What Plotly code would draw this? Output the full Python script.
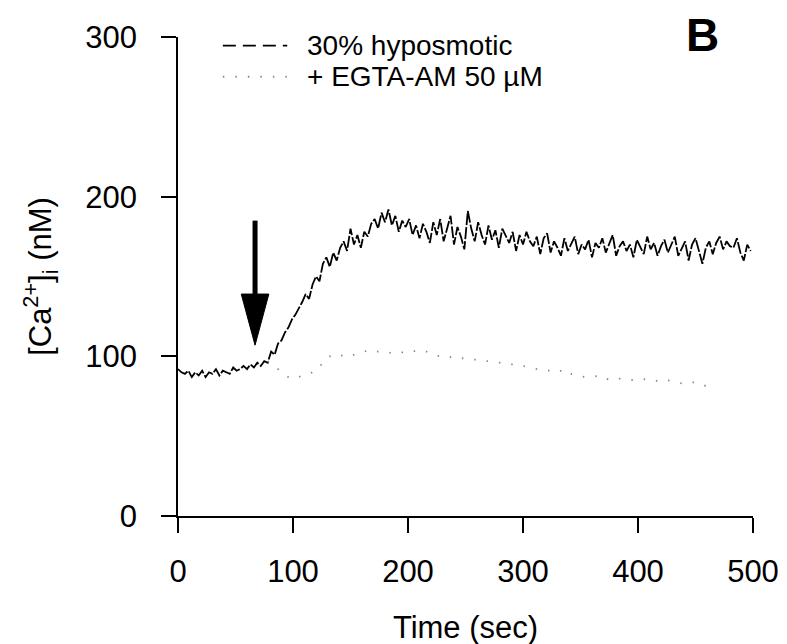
import plotly.graph_objects as go

# ---------------- data ----------------
hypo_time = list(range(0, 499, 3))
hypo_ca = [
    92, 90, 89, 91, 87, 90, 88, 91, 87, 90, 89, 92, 88, 91, 90, 89, 93, 91, 92, 94,
    92, 95, 93, 96, 94, 97,
    96, 103, 101, 108, 110, 115, 118, 123, 126, 130, 134, 139, 136, 145, 150, 147,
    158, 162, 156, 165, 160, 168, 172, 166, 180, 170, 176, 168, 178, 175, 183, 186,
    180, 190, 184, 192, 182, 188, 178, 185, 181, 186, 176, 182, 174, 183, 178, 171,
    184, 176, 186, 172, 180, 188, 170, 181, 175, 167, 191, 180, 172, 184, 176, 170,
    182, 173, 179, 168, 180, 175, 171, 178, 166, 176, 170, 178, 172, 169, 175, 164,
    174, 177, 165, 172, 168, 163, 174, 166, 171, 175, 164, 170, 167, 173, 162, 171,
    168, 174, 165, 170, 176, 163, 169, 172, 166, 170, 162, 173, 168, 164, 175, 167,
    171, 163, 169, 173, 165, 170, 175, 163, 168, 172, 160, 170, 174, 166, 158, 168,
    172, 164, 171, 175, 167, 172, 169, 168, 174, 165, 160, 170, 166,
]
hypo_time = hypo_time[:len(hypo_ca)]

egta_time = list(range(78, 463, 6))
egta_ca = [
    97, 94, 90, 87, 86, 88, 89, 91, 96, 100, 99, 101, 100, 102, 103, 104, 103, 103,
    102, 103, 102, 103, 104, 103, 101, 100, 99, 100, 99, 98, 98, 97, 97, 96, 96, 95,
    95, 94, 93, 92, 91, 91, 90, 92, 89, 88, 87, 87, 88, 86, 85, 86, 86, 85, 85, 86,
    85, 84, 85, 84, 83, 83, 84, 82, 81,
]
egta_time = egta_time[:len(egta_ca)]

x_ticks = [0, 100, 200, 300, 400, 500]
y_ticks = [0, 100, 200, 300]

series_names = ["30% hyposmotic", "+ EGTA-AM 50 \u00b5M"]
series_colors = ["black", "#8a8a8a"]
series_dash = ["12px,2px", "1.5px,11px"]
legend_dash = ["13px,7px", "1.5px,11px"]

# stimulus arrow (time in s, tip / tail in nM)
arrow_t = 67
arrow_tip = 107
arrow_tail = 185

FONT = "Liberation Sans, Arial, sans-serif"

fig = go.Figure()
fig.add_trace(go.Scatter(
    x=hypo_time, y=hypo_ca, mode="lines", name=series_names[0], showlegend=False,
    line=dict(color=series_colors[0], width=1.8, dash=series_dash[0]),
))
fig.add_trace(go.Scatter(
    x=egta_time, y=egta_ca, mode="lines", name=series_names[1], showlegend=False,
    line=dict(color=series_colors[1], width=1.8, dash=series_dash[1]),
))

# arrow: shaft + filled head built from arrow constants
head_len = 32   # nM
head_half = 12  # s
fig.add_shape(type="line", x0=arrow_t, x1=arrow_t, y0=arrow_tail, y1=arrow_tip + head_len - 2,
              line=dict(color="black", width=5), layer="above")
fig.add_shape(type="path",
              path=f"M {arrow_t - head_half} {arrow_tip + head_len} L {arrow_t + head_half} {arrow_tip + head_len} L {arrow_t} {arrow_tip} Z",
              fillcolor="black", line=dict(color="black", width=1), layer="above")

# legend (drawn as keyed lines + texts)
legend_x0, legend_x1, legend_tx = 0.078, 0.19, 0.221
legend_y = [0.982, 0.917]
for i in range(2):
    fig.add_shape(type="line", xref="paper", yref="paper",
                  x0=legend_x0, x1=legend_x1, y0=legend_y[i], y1=legend_y[i],
                  line=dict(color=series_colors[i], width=1.8, dash=legend_dash[i]))
    fig.add_annotation(text=series_names[i], x=legend_tx, y=legend_y[i], xref="paper", yref="paper",
                       xanchor="left", yanchor="middle", showarrow=False,
                       font=dict(family=FONT, size=28, color="black"))

fig.add_annotation(text="<b>B</b>", x=0.913, y=1.005, xref="paper", yref="paper",
                   xanchor="center", yanchor="middle",
                   showarrow=False, font=dict(family=FONT, size=46, color="black"))

axis_common = dict(
    showline=True, linecolor="black", linewidth=1.5,
    ticks="outside", ticklen=15, tickwidth=1.5, tickcolor="black",
    showgrid=False, zeroline=False,
    tickfont=dict(family=FONT, size=31, color="black"),
)
fig.update_xaxes(range=[0, 500], tickvals=x_ticks, ticklabelstandoff=12, **axis_common,
                 title=dict(text="Time (sec)", font=dict(family=FONT, size=31, color="black"), standoff=28))
fig.update_yaxes(range=[0, 300], tickvals=y_ticks, ticklabelstandoff=18, **axis_common,
                 title=dict(text="[Ca<sup>2+</sup>]<sub>i</sub> (nM)", font=dict(family=FONT, size=31, color="black"), standoff=24))

fig.update_layout(
    width=787, height=644,
    margin=dict(l=170, r=42, t=25, b=136),
    plot_bgcolor="white", paper_bgcolor="white",
    font=dict(family=FONT, color="black"),
    showlegend=False,
)

fig.write_html("out.html")
